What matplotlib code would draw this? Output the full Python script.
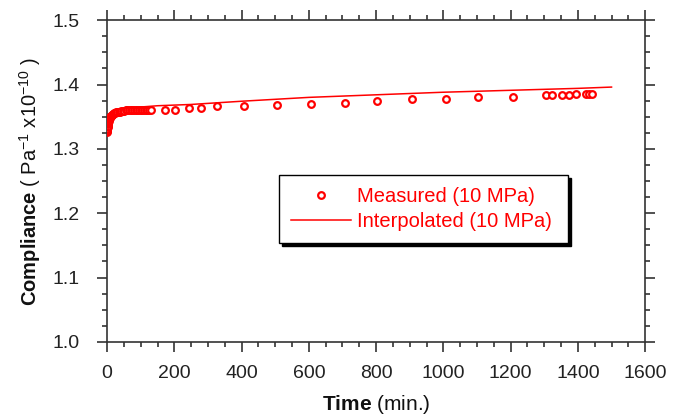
import matplotlib
matplotlib.use("Agg")
import matplotlib.pyplot as plt
from matplotlib.ticker import MultipleLocator, FormatStrFormatter

plt.rcParams['font.family'] = ['Liberation Sans', 'DejaVu Sans']
plt.rcParams['mathtext.fontset'] = 'custom'
plt.rcParams['mathtext.rm'] = 'Liberation Sans'
plt.rcParams['mathtext.bf'] = 'Liberation Sans:bold'
plt.rcParams['mathtext.it'] = 'Liberation Sans:italic'

# Measured compliance (Pa^-1 x 1e-10) vs time (min)
meas_time = [0, 0.3, 0.6, 1, 1.5, 2, 2.5, 3, 4, 5, 6, 7, 8, 9, 10, 11, 12, 14, 16, 18, 20,
             23, 26, 30, 34, 38, 42, 46, 50, 55, 60, 65, 70, 75, 80, 85, 90, 95, 100,
             105, 110, 115, 120, 125, 130,
             172, 202, 244, 280, 326, 406, 505, 607, 708, 803, 907, 1008, 1103, 1206,
             1304, 1324, 1353, 1373, 1393, 1423, 1432, 1442]
meas_val = [1.326, 1.327, 1.329, 1.331, 1.334, 1.336, 1.338, 1.340, 1.342, 1.344, 1.346,
            1.347, 1.348, 1.349, 1.350, 1.351, 1.351, 1.352, 1.353, 1.354, 1.355,
            1.356, 1.357, 1.357, 1.358, 1.358, 1.359, 1.359, 1.359, 1.360, 1.360,
            1.360, 1.360, 1.360, 1.360, 1.360, 1.360, 1.360, 1.360, 1.360, 1.360,
            1.360, 1.360, 1.360, 1.360,
            1.361, 1.360, 1.364, 1.363, 1.367, 1.367, 1.368, 1.370, 1.372, 1.375,
            1.377, 1.377, 1.380, 1.380,
            1.383, 1.383, 1.383, 1.383, 1.386, 1.385, 1.385, 1.385]

# Interpolated curve
interp_time = [0, 5, 10, 20, 40, 60, 100, 150, 250, 400, 600, 800, 1000, 1200, 1400, 1500]
interp_val = [1.330, 1.342, 1.348, 1.354, 1.359, 1.362, 1.365, 1.367, 1.369, 1.374,
              1.380, 1.384, 1.388, 1.391, 1.394, 1.396]

fig = plt.figure(figsize=(6.82, 4.20), dpi=100)
ax = fig.add_axes([0.157, 0.186, 0.789, 0.766])

red = '#ff0000'
ax.plot(interp_time, interp_val, color=red, lw=1.1, label='Interpolated (10 MPa)', zorder=2)
ax.plot(meas_time, meas_val, linestyle='none', marker='o', ms=4.8, mfc='white',
        mec=red, mew=1.6, label='Measured (10 MPa)', zorder=3)

ax.set_xlim(0, 1600)
ax.set_ylim(1.0, 1.5)
ax.xaxis.set_major_locator(MultipleLocator(200))
ax.xaxis.set_minor_locator(MultipleLocator(50))
ax.yaxis.set_major_locator(MultipleLocator(0.1))
ax.yaxis.set_minor_locator(MultipleLocator(0.025))
ax.yaxis.set_major_formatter(FormatStrFormatter('%.1f'))

spc = '#333333'
for s in ax.spines.values():
    s.set_linewidth(1.2)
    s.set_color(spc)
ax.tick_params(which='both', direction='out', top=True, right=True, color=spc,
               width=1.2, labelcolor='#222222', labelsize=14)
ax.tick_params(which='major', length=7.5)
ax.tick_params(which='minor', length=3.8)
ax.tick_params(axis='x', which='major', pad=9)
ax.tick_params(axis='y', which='major', pad=12)
ax.tick_params(labeltop=False, labelright=False)

ax.set_xlabel(r'$\mathbf{Time}$ (min.)', fontsize=15, labelpad=8, color='#111111')
ax.set_ylabel(r'$\mathbf{Compliance}$ ( Pa$^{-1}$ x10$^{-10}$ )', fontsize=14.5,
              labelpad=7, color='#111111')

handles, labels = ax.get_legend_handles_labels()
leg = ax.legend(handles[::-1], labels[::-1], loc='upper left',
                bbox_to_anchor=(0.32, 0.307, 0.537, 0.212), mode='expand',
                fontsize=14.5, labelcolor=red, frameon=True, fancybox=False,
                shadow={'color': 'black', 'alpha': 1}, edgecolor='black', framealpha=1,
                handlelength=2.95, handletextpad=0.3, borderpad=0.6, labelspacing=0.3,
                borderaxespad=0)
leg.get_frame().set_linewidth(1.0)

fig.savefig('out.png', dpi=100)
